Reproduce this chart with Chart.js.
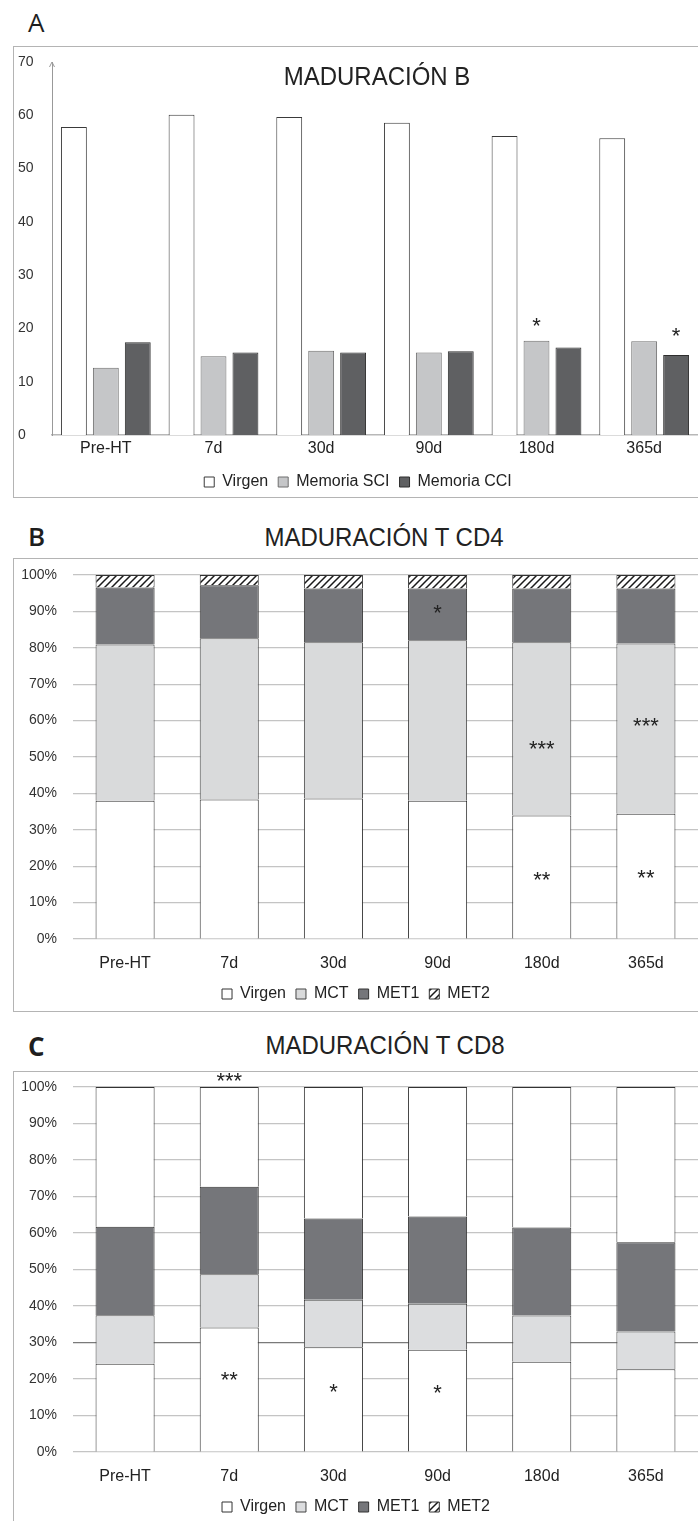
<!DOCTYPE html>
<html>
<head>
<meta charset="utf-8">
<script src="https://cdn.jsdelivr.net/npm/chart.js@4.4.1/dist/chart.umd.min.js"></script>
<style>
  body { margin:0; background:#fff; width:698px; height:1521px; overflow:hidden; position:relative;
         font-family:'Liberation Sans',Arial,sans-serif; color:#222; }
  .marco { position:absolute; left:13px; width:720px; border:1.5px solid #b4b4b4; box-sizing:border-box; }
  .letra { position:absolute; left:28px; font-family:'Open Sans',sans-serif; font-size:26px; line-height:26px; color:#1e1e1e; }
  .titulo { position:absolute; font-size:25px; line-height:25px; white-space:nowrap; transform:translateX(-50%) scaleX(0.96); }
  canvas { position:absolute; left:14px; }
</style>
</head>
<body>
<div class="letra" style="top:9px">A</div>
<div class="marco" style="top:46px;height:452px"></div>
<canvas id="cA" style="top:47px;width:684px;height:453px"></canvas>
<div class="titulo" style="left:377px;top:64px">MADURACIÓN B</div>

<div class="letra" style="top:523px;font-weight:600">B</div>
<div class="titulo" style="left:384px;top:525px">MADURACIÓN T CD4</div>
<div class="marco" style="top:558px;height:454px"></div>
<canvas id="cB" style="top:559px;width:684px;height:453px"></canvas>

<div class="letra" style="top:1033px;font-weight:700">C</div>
<div class="titulo" style="left:385px;top:1033px">MADURACIÓN T CD8</div>
<div class="marco" style="top:1071px;height:470px"></div>
<canvas id="cC" style="top:1072px;width:684px;height:453px"></canvas>

<script>
// categorias y valores
const categorias = ['Pre-HT', '7d', '30d', '90d', '180d', '365d'];

// A - maduracion B (%)
const bVirgen      = [57.8, 60.1, 59.7, 58.6, 56.1, 55.7];
const bMemoriaSCI  = [12.6, 14.8, 15.8, 15.5, 17.7, 17.6];
const bMemoriaCCI  = [17.4, 15.5, 15.5, 15.7, 16.4, 15.0];
const ticksA       = ['0', '10', '20', '30', '40', '50', '60', '70'];

// B - maduracion T CD4 (% apilado)
const cd4Virgen = [38.0, 38.3, 38.6, 38.0, 33.9, 34.4];
const cd4MCT    = [42.9, 44.3, 42.9, 44.1, 47.6, 46.8];
const cd4MET1   = [15.7, 14.6, 14.8, 14.2, 14.8, 15.1];
const cd4MET2   = [3.4, 2.8, 3.7, 3.7, 3.7, 3.7];

// C - maduracion T CD8 (% apilado)
const cd8Virgen = [24.2, 34.1, 28.7, 28.0, 24.7, 22.7];
const cd8MCT    = [13.3, 14.6, 13.0, 12.6, 12.7, 10.3];
const cd8MET1   = [24.2, 24.0, 22.3, 23.9, 24.1, 24.5];
const cd8MET2   = [38.3, 27.3, 36.0, 35.5, 38.5, 42.5];

const ticksPct = ['0%', '10%', '20%', '30%', '40%', '50%', '60%', '70%', '80%', '90%', '100%'];

// asteriscos de significacion: serie, categoria, altura (valor del eje)
const notasA = [{ds: 1, idx: 4, y: 20.6, t: '*'}, {ds: 2, idx: 5, y: 18.7, t: '*'}];
const notasB = [{ds: 2, idx: 3, y: 89.8, t: '*'}, {ds: 1, idx: 4, y: 52.5, t: '***'}, {ds: 1, idx: 5, y: 58.8, t: '***'},
                {ds: 0, idx: 4, y: 16.6, t: '**'}, {ds: 0, idx: 5, y: 17.1, t: '**'}];
const notasC = [{ds: 3, idx: 1, y: 101.9, t: '***'}, {ds: 0, idx: 1, y: 20.1, t: '**'},
                {ds: 0, idx: 2, y: 16.8, t: '*'}, {ds: 0, idx: 3, y: 16.5, t: '*'}];

const fuente = "'Liberation Sans',Arial,sans-serif";

function rayado(ctx) {
  const c = document.createElement('canvas');
  c.width = 7; c.height = 7;
  const g = c.getContext('2d');
  g.fillStyle = '#fff';
  g.fillRect(0, 0, 7, 7);
  g.strokeStyle = '#1a1a1a';
  g.lineWidth = 1.5;
  g.beginPath();
  g.moveTo(0, 7); g.lineTo(7, 0);
  g.moveTo(-3.5, 3.5); g.lineTo(3.5, -3.5);
  g.moveTo(3.5, 10.5); g.lineTo(10.5, 3.5);
  g.stroke();
  return ctx.createPattern(c, 'repeat');
}

function notasPlugin(notas) {
  return {
    id: 'notas',
    afterDatasetsDraw(chart) {
      const ctx = chart.ctx;
      ctx.save();
      ctx.font = "22px 'Liberation Sans',Arial,sans-serif";
      ctx.fillStyle = '#222';
      ctx.textAlign = 'center';
      ctx.textBaseline = 'alphabetic';
      notas.forEach(n => {
        const bar = chart.getDatasetMeta(n.ds).data[n.idx];
        const y = chart.scales.y.getPixelForValue(n.y);
        ctx.fillText(n.t, bar.x, y + 8);
      });
      ctx.restore();
    }
  };
}

// flecha en la punta del eje Y del panel A
const flechaPlugin = {
  id: 'flecha',
  afterDraw(chart) {
    const ctx = chart.ctx, a = chart.chartArea;
    ctx.save();
    ctx.strokeStyle = '#999';
    ctx.lineWidth = 1;
    ctx.beginPath();
    ctx.moveTo(a.left - 2.5, a.top + 5);
    ctx.lineTo(a.left, a.top);
    ctx.lineTo(a.left + 2.5, a.top + 5);
    ctx.stroke();
    ctx.restore();
  }
};

function leyenda(extra) {
  return Object.assign({
    position: 'bottom',
    labels: {
      boxWidth: 10, boxHeight: 10, padding: 10, color: '#222',
      font: {family: fuente, size: 16}
    }
  }, extra || {});
}

Chart.defaults.animation = false;
Chart.defaults.font.family = fuente;

// ---------- A ----------
new Chart(document.getElementById('cA'), {
  type: 'bar',
  data: {
    labels: categorias,
    datasets: [
      {label: 'Virgen', data: bVirgen, backgroundColor: '#ffffff', borderColor: '#3a3a3a', borderWidth: 1},
      {label: 'Memoria SCI', data: bMemoriaSCI, backgroundColor: '#c5c6c8', borderColor: '#6e6e6e', borderWidth: 1},
      {label: 'Memoria CCI', data: bMemoriaCCI, backgroundColor: '#5f6062', borderColor: '#2e2e2e', borderWidth: 1}
    ]
  },
  options: {
    responsive: false,
    categoryPercentage: 0.89,
    barPercentage: 0.81,
    layout: {padding: {left: 4, top: 15, right: 0, bottom: 0}},
    plugins: {legend: leyenda(), tooltip: {enabled: false}},
    scales: {
      x: {
        grid: {display: false, drawTicks: false},
        border: {display: true, color: '#b8b8b8', width: 1.5},
        ticks: {padding: 4, color: '#222', font: {size: 16}},
        afterFit(s) { s.height = 29; }
      },
      y: {
        min: 0, max: 70,
        grid: {display: false, drawTicks: false},
        border: {display: true, color: '#999', width: 1},
        ticks: {stepSize: 10, crossAlign: 'far', color: '#333', font: {size: 14},
                callback: (v, i) => ticksA[i]},
        afterFit(s) { s.width = 34; }
      }
    }
  },
  plugins: [notasPlugin(notasA), flechaPlugin]
});

// ---------- B y C (apiladas al 100%) ----------
function opcionesApiladas(colorGrid, top, leyendaExtra) {
  return {
    responsive: false,
    categoryPercentage: 1,
    barPercentage: 0.567,
    layout: {padding: {left: 0, top: top, right: 0, bottom: 0}},
    plugins: {legend: leyenda(leyendaExtra), tooltip: {enabled: false}},
    scales: {
      x: {
        stacked: true,
        grid: {display: false, drawTicks: false},
        border: {display: false},
        ticks: {padding: 15, color: '#222', font: {size: 16}},
        afterFit(s) { s.height = 37; }
      },
      y: {
        stacked: true, min: 0, max: 100,
        grid: {color: colorGrid, lineWidth: 1.2, drawTicks: true, tickLength: 14, tickColor: 'rgba(0,0,0,0)'},
        border: {display: false},
        ticks: {stepSize: 10, padding: 2, color: '#333', font: {size: 14},
                callback: (v, i) => ticksPct[i]},
        afterFit(s) { s.width = 59; }
      }
    }
  };
}

const ctxB = document.getElementById('cB').getContext('2d');
new Chart(ctxB, {
  type: 'bar',
  data: {
    labels: categorias,
    datasets: [
      {label: 'Virgen', data: cd4Virgen, backgroundColor: '#ffffff', borderColor: '#333', borderWidth: 1},
      {label: 'MCT', data: cd4MCT, backgroundColor: '#d9dadb', borderColor: '#444', borderWidth: 1},
      {label: 'MET1', data: cd4MET1, backgroundColor: '#75767a', borderColor: '#333', borderWidth: 1},
      {label: 'MET2', data: cd4MET2, backgroundColor: rayado(ctxB), borderColor: '#333', borderWidth: 1}
    ]
  },
  options: opcionesApiladas('#c4c4c4', 16),
  plugins: [notasPlugin(notasB)]
});

const ctxC = document.getElementById('cC').getContext('2d');
const rayadoC = rayado(ctxC);
new Chart(ctxC, {
  type: 'bar',
  data: {
    labels: categorias,
    datasets: [
      {label: 'Virgen', data: cd8Virgen, backgroundColor: '#ffffff', borderColor: '#333', borderWidth: 1},
      {label: 'MCT', data: cd8MCT, backgroundColor: '#dcdddf', borderColor: '#444', borderWidth: 1},
      {label: 'MET1', data: cd8MET1, backgroundColor: '#75767a', borderColor: '#333', borderWidth: 1},
      {label: 'MET2', data: cd8MET2, backgroundColor: '#ffffff', borderColor: '#333', borderWidth: 1}
    ]
  },
  options: opcionesApiladas(ctx => ctx.tick && ctx.tick.value === 30 ? '#7a7a7a' : '#c4c4c4', 15, {
    labels: {
      boxWidth: 10, boxHeight: 10, padding: 10, color: '#222',
      font: {family: fuente, size: 16},
      generateLabels(chart) {
        const items = Chart.defaults.plugins.legend.labels.generateLabels(chart);
        items[3].fillStyle = rayadoC;
        return items;
      }
    }
  }),
  plugins: [notasPlugin(notasC)]
});
</script>
</body>
</html>
